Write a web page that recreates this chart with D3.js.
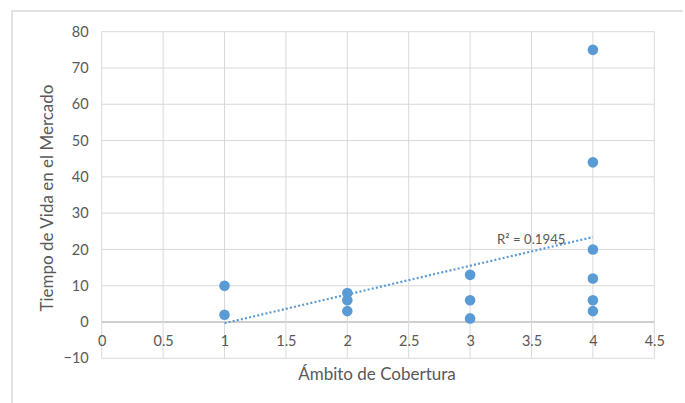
<!DOCTYPE html>
<html>
<head>
<meta charset="utf-8">
<script src="https://cdn.jsdelivr.net/npm/d3@7"></script>
<style>
  html, body { margin: 0; padding: 0; background: #fff; }
  svg { display: block; font-family: Lato, "Open Sans", sans-serif; }
</style>
</head>
<body>
<svg id="chart" width="685" height="403"></svg>
<script>
// Ámbito de Cobertura (x) vs Tiempo de Vida en el Mercado (y)
const ambito = [1, 1, 2, 2, 2, 3, 3, 3, 4, 4, 4, 4, 4, 4];
const tiempo = [10, 2, 8, 6, 3, 13, 6, 1, 75, 44, 20, 12, 6, 3];
const xTicks = [0, 0.5, 1, 1.5, 2, 2.5, 3, 3.5, 4, 4.5];
const yTicks = [-10, 0, 10, 20, 30, 40, 50, 60, 70, 80];
const xTitle = "Ámbito de Cobertura";
const yTitle = "Tiempo de Vida en el Mercado";

const svg = d3.select("#chart");
const W = 685, H = 403;
const plot = { left: 101.7, right: 654.3, top: 31.7, bottom: 358.3 };

const x = d3.scaleLinear().domain([0, 4.5]).range([plot.left, plot.right]);
const y = d3.scaleLinear().domain([-10, 80]).range([plot.bottom, plot.top]);

const gridColor = "#d9d9d9";
const textColor = "#595959";
const blue = "#5b9bd5";

// chart frame
svg.append("path")
  .attr("d", `M12,${H + 2} L12,11 L683,11`)
  .attr("fill", "none").attr("stroke", "#d9d9d9").attr("stroke-width", 1.5);

// gridlines
const grid = svg.append("g");
grid.selectAll("line.h").data(yTicks).join("line")
  .attr("x1", plot.left).attr("x2", plot.right)
  .attr("y1", d => y(d)).attr("y2", d => y(d))
  .attr("stroke", d => d === 0 ? "#bfbfbf" : gridColor)
  .attr("stroke-width", d => d === 0 ? 1.3 : 1);
grid.selectAll("line.v").data(xTicks).join("line")
  .attr("y1", plot.top).attr("y2", plot.bottom)
  .attr("x1", d => x(d)).attr("x2", d => x(d))
  .attr("stroke", gridColor).attr("stroke-width", 1);

// y axis labels
const yAxis = d3.axisLeft(y).tickValues(yTicks).tickSize(0).tickPadding(0);
svg.append("g")
  .attr("transform", `translate(${plot.left - 13},0)`)
  .call(yAxis)
  .call(g => g.select(".domain").remove())
  .call(g => g.selectAll("text")
    .attr("fill", textColor).attr("font-size", 14.5)
    .attr("font-family", "Lato, 'Open Sans', sans-serif"));

// x axis labels, at the zero crossing
const xAxis = d3.axisBottom(x).tickValues(xTicks).tickSize(0).tickPadding(0)
  .tickFormat(d3.format("~g"));
svg.append("g")
  .attr("transform", `translate(0,${y(0) + 14})`)
  .call(xAxis)
  .call(g => g.select(".domain").remove())
  .call(g => g.selectAll("text")
    .attr("fill", textColor).attr("font-size", 14.5)
    .attr("font-family", "Lato, 'Open Sans', sans-serif"));

// axis titles
svg.append("text")
  .attr("x", 377).attr("y", 380)
  .attr("text-anchor", "middle")
  .attr("fill", textColor).attr("font-size", 17)
  .text(xTitle);
svg.append("text")
  .attr("transform", `translate(53,${(plot.top + y(-10)) / 2 + 3}) rotate(-90)`)
  .attr("text-anchor", "middle")
  .attr("fill", textColor).attr("font-size", 17)
  .text(yTitle);

// linear least-squares trend line
const n = ambito.length;
const mx = d3.mean(ambito), my = d3.mean(tiempo);
let sxy = 0, sxx = 0, syy = 0;
for (let i = 0; i < n; i++) {
  sxy += (ambito[i] - mx) * (tiempo[i] - my);
  sxx += (ambito[i] - mx) ** 2;
  syy += (tiempo[i] - my) ** 2;
}
const slope = sxy / sxx;
const intercept = my - slope * mx;
const r2 = (sxy * sxy) / (sxx * syy);
const xr = d3.extent(ambito);

svg.append("line")
  .attr("x1", x(xr[0])).attr("y1", y(intercept + slope * xr[0]))
  .attr("x2", x(xr[1])).attr("y2", y(intercept + slope * xr[1]))
  .attr("stroke", blue).attr("stroke-width", 2.2)
  .attr("stroke-dasharray", "2,2.2");

// points
svg.append("g").selectAll("circle")
  .data(ambito.map((a, i) => [a, tiempo[i]]))
  .join("circle")
  .attr("cx", d => x(d[0])).attr("cy", d => y(d[1]))
  .attr("r", 5.3)
  .attr("fill", blue);

// R² label
svg.append("text")
  .attr("x", 497).attr("y", 244)
  .attr("fill", textColor).attr("font-size", 13.2)
  .text("R² = " + r2.toFixed(4));
</script>
</body>
</html>
